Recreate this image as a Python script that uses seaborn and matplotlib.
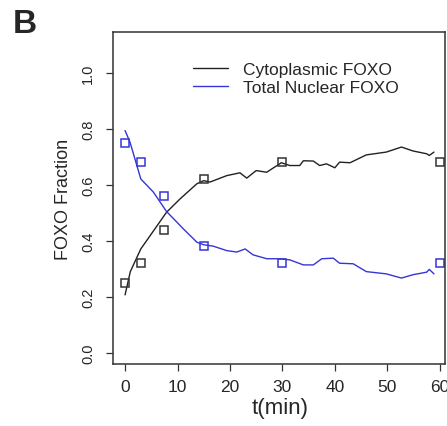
import numpy as np
import pandas as pd
import matplotlib
matplotlib.use('Agg')
import matplotlib.pyplot as plt
import seaborn as sns

# valeurs
t_cyto = [0, 1, 3, 4.8, 7.9, 10.5, 13.7, 15, 16.2, 19.4, 21.9, 23.2, 25, 27, 29.8, 31.4,
          33.3, 34, 35.9, 37.1, 38.4, 40, 40.9, 42.9, 46, 49.8, 52.7, 54.9, 57.5, 58, 58.9]
v_cyto = [0.207, 0.29, 0.371, 0.419, 0.502, 0.55, 0.604, 0.615, 0.61, 0.633, 0.643, 0.624,
          0.651, 0.645, 0.679, 0.669, 0.669, 0.686, 0.685, 0.669, 0.675, 0.661, 0.681, 0.679,
          0.707, 0.717, 0.735, 0.721, 0.711, 0.705, 0.717]

t_nuc = [0, 0.95, 3, 5.4, 7.9, 11.1, 13.7, 15, 16.8, 19.4, 21.3, 22.9, 24.4, 27, 29.5, 31.4,
         34, 35.9, 37.5, 39.7, 40.9, 43.5, 46, 49.8, 52.7, 54.9, 57.5, 58, 58.9]
v_nuc = [0.794, 0.752, 0.621, 0.574, 0.505, 0.443, 0.395, 0.386, 0.381, 0.365, 0.36, 0.371,
         0.35, 0.336, 0.336, 0.332, 0.314, 0.314, 0.336, 0.338, 0.32, 0.318, 0.29, 0.282,
         0.267, 0.279, 0.288, 0.298, 0.282]

# points expérimentaux (carrés)
t_exp = [0, 3, 7.5, 15, 30, 60]
cyto_exp = [0.25, 0.32, 0.44, 0.62, 0.68, 0.68]
nuc_exp = [0.75, 0.68, 0.56, 0.38, 0.32, 0.32]

x_ticks = [0, 10, 20, 30, 40, 50, 60]
y_ticks = [0.0, 0.2, 0.4, 0.6, 0.8, 1.0]

sns.set_style('ticks')
plt.rcParams['font.family'] = ['Liberation Sans', 'DejaVu Sans']

black = '#222222'
blue = '#3535d8'

fig = plt.figure(figsize=(4.47, 4.27), dpi=100)
ax = fig.add_axes([113/447, 62/427, 332/447, 332/427])

sns.lineplot(x=t_cyto, y=v_cyto, ax=ax, color=black, lw=1.0, sort=False,
             label='Cytoplasmic FOXO')
sns.lineplot(x=t_nuc, y=v_nuc, ax=ax, color=blue, lw=1.0, sort=False,
             label='Total Nuclear FOXO')

sns.lineplot(x=t_exp, y=cyto_exp, ax=ax, marker='s', linestyle='', mfc='none',
             mec='#333333', mew=1.1, markersize=5.8, legend=False)
sns.lineplot(x=t_exp, y=nuc_exp, ax=ax, marker='s', linestyle='', mfc='none',
             mec=blue, mew=1.1, markersize=5.8, legend=False)

ax.set_xlim(-2.3, 61)
ax.set_ylim(-0.04, 1.146)
ax.set_xticks(x_ticks)
ax.set_yticks(y_ticks)
ax.set_yticklabels([f'{v:.1f}' for v in y_ticks])

for s in ax.spines.values():
    s.set_color('#333333')
    s.set_linewidth(1.1)

ax.tick_params(axis='both', direction='out', length=5, width=0.9, color='#333333')
ax.tick_params(axis='x', labelsize=12.5, pad=5.5)
ax.tick_params(axis='y', labelsize=10.5, pad=8, labelrotation=90)
for lab in ax.get_yticklabels():
    lab.set_va('center')

ax.set_xlabel('t(min)', fontsize=16)
ax.set_ylabel('FOXO Fraction', fontsize=13)
ax.xaxis.set_label_coords(0.503, -0.1)
ax.yaxis.set_label_coords(-0.125, 0.5)

leg = ax.legend(loc='upper left', bbox_to_anchor=(0.241, 0.91), frameon=False,
                fontsize=12.5, handlelength=2.0, handletextpad=0.9,
                labelspacing=0.15, borderpad=0, borderaxespad=0)

fig.text(13/447, 1 - 9/427, 'B', ha='left', va='top', fontsize=24, fontweight='bold')

fig.savefig('out.png', dpi=100)
